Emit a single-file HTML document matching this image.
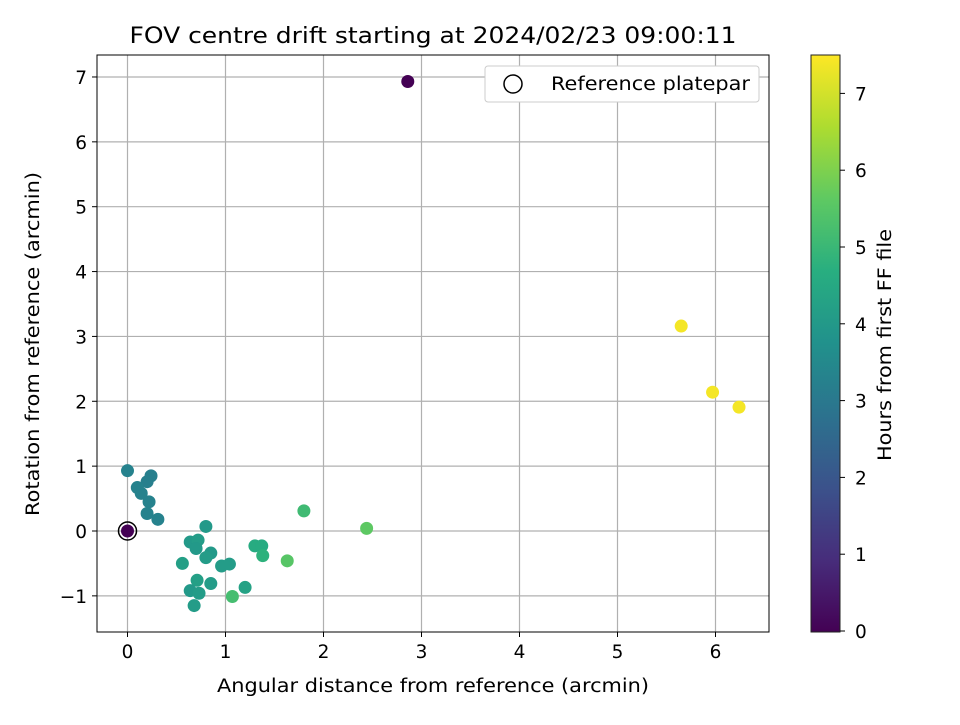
<!DOCTYPE html>
<html><head><meta charset="utf-8"><style>
body{margin:0;background:#fff;font-family:"Liberation Sans","DejaVu Sans",sans-serif}
svg text{font-family:"DejaVu Sans","Liberation Sans",sans-serif;fill:#000}
</style></head><body>
<svg id="chart" width="960" height="720" xmlns="http://www.w3.org/2000/svg">
<defs><linearGradient id="cb" x1="0" y1="1" x2="0" y2="0">
<stop offset="0" stop-color="#440154"/><stop offset="0.125" stop-color="#472d7b"/><stop offset="0.25" stop-color="#3b528b"/><stop offset="0.375" stop-color="#2c728e"/><stop offset="0.5" stop-color="#21918c"/><stop offset="0.625" stop-color="#28ae80"/><stop offset="0.75" stop-color="#5ec962"/><stop offset="0.875" stop-color="#addc30"/><stop offset="1" stop-color="#fde725"/>
</linearGradient></defs>
<g id="grid"></g>
<g id="points"></g>
<rect x="97" y="55" width="672" height="577" fill="none" stroke="#000" stroke-width="1"/>
<g id="ticks"></g>
<text x="433" y="43" font-size="22" text-anchor="middle" textLength="607" lengthAdjust="spacingAndGlyphs">FOV centre drift starting at 2024/02/23 09:00:11</text>
<text x="433" y="692" font-size="18.5" text-anchor="middle" textLength="432" lengthAdjust="spacingAndGlyphs">Angular distance from reference (arcmin)</text>
<text transform="translate(39,344) rotate(-90)" font-size="18.5" text-anchor="middle" textLength="344" lengthAdjust="spacingAndGlyphs">Rotation from reference (arcmin)</text>
<g>
<rect x="485" y="66" width="274" height="36" rx="3" fill="#fff" stroke="#ccc"/>
<circle cx="513" cy="84" r="9" fill="none" stroke="#000" stroke-width="1.5"/>
<text x="551" y="90" font-size="18.5" textLength="199" lengthAdjust="spacingAndGlyphs">Reference platepar</text>
</g>
<rect x="811" y="55" width="29" height="577" fill="url(#cb)" stroke="#222" stroke-width="1"/>
<g id="cbticks"></g>
<text transform="translate(891,345) rotate(-90)" font-size="18.5" text-anchor="middle" textLength="232" lengthAdjust="spacingAndGlyphs">Hours from first FF file</text>
</svg>
<script>
const xs=[0,0.24,0.2,0.1,0.14,0.22,0.2,0.31,0.8,0.64,0.72,0.7,0.85,0.8,0.56,0.96,1.04,1.3,1.37,1.38,1.63,1.8,2.44,0.71,0.85,0.64,0.73,0.68,1.2,1.07,2.86,5.65,5.97,6.24];
const ys=[0.93,0.85,0.76,0.67,0.58,0.45,0.27,0.18,0.07,-0.17,-0.14,-0.27,-0.34,-0.41,-0.5,-0.54,-0.51,-0.23,-0.23,-0.38,-0.46,0.31,0.04,-0.76,-0.81,-0.92,-0.96,-1.15,-0.87,-1.01,6.93,3.16,2.14,1.91];
const hrs=[3.3,3.2,3.2,3.3,3.3,3.3,3.3,3.3,4.0,4.0,4.1,4.0,4.0,4.1,4.2,4.1,4.1,4.6,4.6,4.8,5.5,5.1,5.6,4.2,4.1,4.0,4.1,4.1,4.3,5.2,0,7.4,7.4,7.4];
const xTicks=[0,1,2,3,4,5,6],yTicks=[-1,0,1,2,3,4,5,6,7],cTicks=[0,1,2,3,4,5,6,7];
const X=v=>127.5+v*98,Y=v=>531-v*64.86,C=v=>631-v*76.8;
const V=[[68,1,84],[71,45,123],[59,82,139],[44,114,142],[33,145,140],[40,174,128],[94,201,98],[173,220,48],[253,231,37]];
function vir(h){let t=Math.max(0,Math.min(1,h/7.5))*8,i=Math.min(7,Math.floor(t)),f=t-i;return 'rgb('+V[i].map((c,k)=>Math.round(c+(V[i+1][k]-c)*f)).join(',')+')';}
const NS='http://www.w3.org/2000/svg';
function mk(p,tag,a){const e=document.createElementNS(NS,tag);for(const k in a)e.setAttribute(k,a[k]);document.getElementById(p).appendChild(e);return e;}
xTicks.forEach(t=>{let l=mk('grid','line',{x1:X(t),x2:X(t),y1:55,y2:632,stroke:'#b0b0b0','stroke-width':1.2});

let k=mk('ticks','line',{x1:X(t),x2:X(t),y1:632,y2:637,stroke:'#000'});
let s=mk('ticks','text',{x:X(t),y:658,'font-size':18.5,'text-anchor':'middle'});s.textContent=t;});
yTicks.forEach(t=>{let l=mk('grid','line',{x1:97,x2:769,y1:Y(t),y2:Y(t),stroke:'#b0b0b0','stroke-width':1.2});

let k=mk('ticks','line',{x1:92,x2:97,y1:Y(t),y2:Y(t),stroke:'#000'});
let s=mk('ticks','text',{x:87,y:Y(t)+7,'font-size':18.5,'text-anchor':'end'});s.textContent=t<0?'\u22121':t;});
cTicks.forEach(t=>{let k=mk('cbticks','line',{x1:840,x2:845,y1:C(t),y2:C(t),stroke:'#000'});
let s=mk('cbticks','text',{x:855,y:C(t)+7,'font-size':18.5});s.textContent=t;});
xs.forEach((x,i)=>{let c=mk('points','circle',{cx:X(x),cy:Y(ys[i]),r:6.5,fill:vir(hrs[i])});});
let r=mk('points','circle',{cx:X(0),cy:Y(0),r:9,fill:'none',stroke:'#000','stroke-width':1.5});
let r2=mk('points','circle',{cx:X(0),cy:Y(0),r:6.5,fill:vir(0)});
</script>
</body></html>
